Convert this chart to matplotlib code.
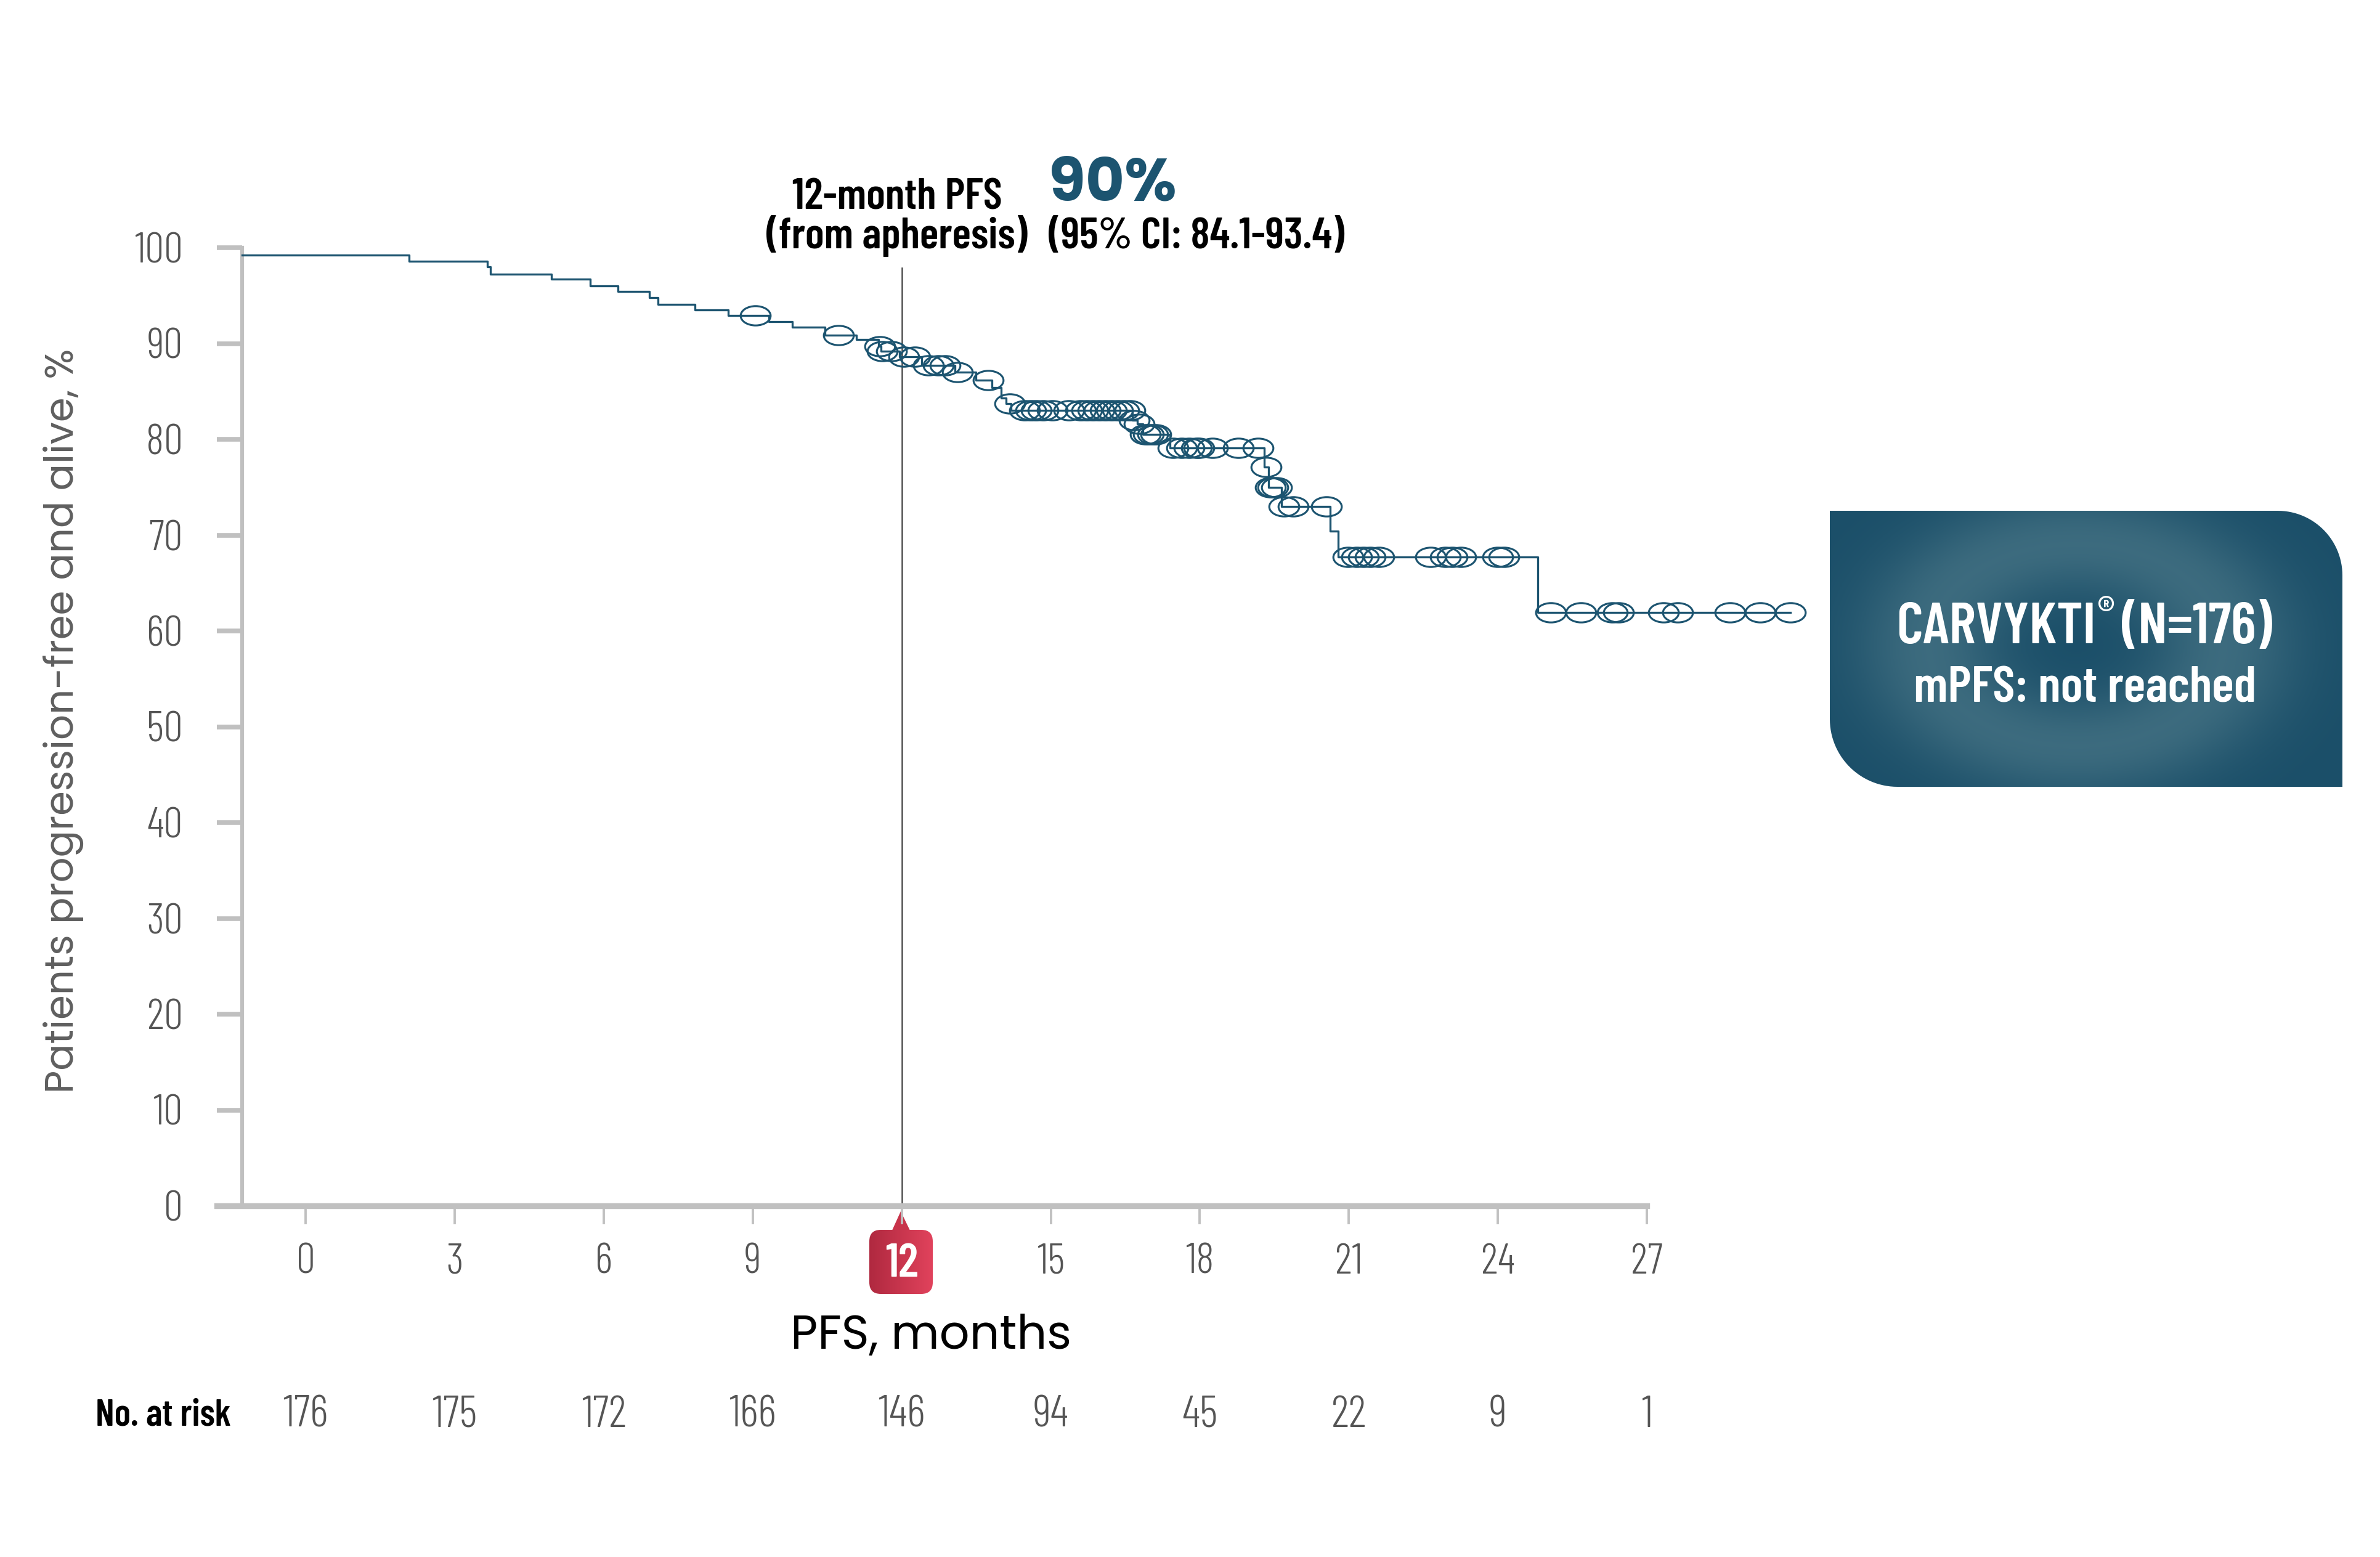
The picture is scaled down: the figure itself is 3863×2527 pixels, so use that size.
import matplotlib
matplotlib.use('Agg')
import matplotlib.pyplot as plt
import numpy as np
from matplotlib import font_manager
from matplotlib.patches import FancyBboxPatch, PathPatch, Polygon
from matplotlib.path import Path
from matplotlib.transforms import Affine2D, blended_transform_factory

# ---- data ----
step_times = np.array([-1.28, 2.08, 3.65, 3.72, 4.94, 5.73, 6.28, 6.92, 7.09, 7.84,
                       8.5, 9.32, 9.79, 10.45, 11.08, 11.53, 11.58, 11.95, 12.4, 13.07,
                       13.49, 13.82, 14.0, 14.1, 14.2, 16.64, 16.74, 16.85, 17.4, 19.3,
                       19.38, 19.64, 20.63, 20.78, 24.8])
step_levels = np.array([99.2, 98.6, 98.0, 97.25, 96.7, 96.0, 95.45, 94.8, 94.1, 93.5,
                        92.9, 92.3, 91.7, 90.9, 90.4, 89.7, 89.2, 88.6, 87.7, 87.0,
                        86.2, 85.4, 84.3, 83.7, 83.0, 82.0, 81.6, 80.5, 79.1, 77.1,
                        75.0, 73.0, 70.4, 67.7, 61.9])
end_time = 29.89

censor_times = np.array([9.05, 10.73, 11.56, 11.61, 11.79, 12.04, 12.27, 12.54, 12.74, 12.87,
                         13.12, 13.74, 14.17, 14.47, 14.6, 14.71, 14.85, 15.03, 15.37, 15.6,
                         15.72, 15.85, 15.97, 16.1, 16.22, 16.35, 16.47, 16.59, 16.68, 16.78,
                         16.9, 16.97, 17.05, 17.12, 17.46, 17.64, 17.78, 17.93, 17.98, 18.26,
                         18.78, 19.17, 19.34, 19.42, 19.47, 19.54, 19.7, 19.88, 20.55, 20.99,
                         21.16, 21.29, 21.43, 21.6, 22.64, 22.95, 23.08, 23.25, 24.0, 24.12,
                         25.06, 25.67, 26.3, 26.43, 27.33, 27.62, 28.67, 29.28, 29.89])

x_ticks = [0, 3, 6, 9, 12, 15, 18, 21, 24, 27]
y_ticks = [0, 10, 20, 30, 40, 50, 60, 70, 80, 90, 100]
at_risk = [176, 175, 172, 166, 146, 94, 45, 22, 9, 1]

# ---- fonts ----
ttf = font_manager.fontManager.ttflist


def pick(*names):
    # first family that has static regular and bold faces
    for n in names:
        ws = {int(f.weight) for f in ttf if f.name == n and '[' not in f.fname
              and 'Variable' not in f.fname and str(f.weight).isdigit()}
        if 400 in ws and 700 in ws:
            return n
    return 'DejaVu Sans'


NARROW = pick('Barlow Condensed', 'Roboto Condensed', 'Liberation Sans Narrow', 'Liberation Sans')
GEO = pick('Montserrat', 'Poppins', 'Lato', 'Open Sans')

TEAL = '#1c5470'
AXGRAY = '#c0c0c0'
LABGRAY = '#555555'

W, H, DPI = 3863, 2527, 250
fig = plt.figure(figsize=(W / DPI, H / DPI), dpi=DPI)


def fx(px):
    return px / W


def fy(py):
    return 1 - py / H


ax = fig.add_axes([fx(352), fy(1957), fx(2673) - fx(352), fy(402) - fy(1957)])
ax.set_xlim(-1.79, 27)
ax.set_ylim(0, 100)

# KM curve + censor marks
ax.step(np.append(step_times, end_time), np.append(step_levels, step_levels[-1]),
        where='post', color=TEAL, lw=0.95, clip_on=False, zorder=3)
idx = np.searchsorted(step_times, censor_times, side='right') - 1
ellipse = Path.unit_circle().transformed(Affine2D().scale(1.55, 1.0))
ax.plot(censor_times, step_levels[idx], ls='none', marker=ellipse, ms=14,
        mfc='none', mec=TEAL, mew=0.9, clip_on=False, zorder=4)

# 12-month reference line
ax.axvline(12, ymin=0, ymax=0.979, color='#555555', lw=0.75, zorder=2)

# spines and ticks
for s in ['top', 'right']:
    ax.spines[s].set_visible(False)
ax.spines['left'].set_position(('data', -1.28))
ax.spines['left'].set_bounds(0, 100)
ax.spines['left'].set_color(AXGRAY)
ax.spines['left'].set_linewidth(1.8)
ax.spines['bottom'].set_color(AXGRAY)
ax.spines['bottom'].set_linewidth(2.7)

ax.set_yticks(y_ticks)
ax.set_yticklabels([str(v) for v in y_ticks])
ax.tick_params(axis='y', direction='out', length=11.8, width=2.2, color=AXGRAY,
               pad=16, labelsize=20, labelcolor=LABGRAY)
ax.set_xticks(x_ticks)
ax.set_xticklabels([str(v) for v in x_ticks])
ax.tick_params(axis='x', direction='out', length=8.5, width=1.1, color=AXGRAY,
               pad=9, labelsize=20, labelcolor=LABGRAY)
for lab in ax.get_xticklabels() + ax.get_yticklabels():
    lab.set_fontfamily(NARROW)
    lab.set_fontweight(300)
lab12 = ax.get_xticklabels()[x_ticks.index(12)]
lab12.set_color('white')
lab12.set_fontweight(600)
lab12.set_fontsize(22)

# red badge behind the "12" label
bax = fig.add_axes([fx(1411), fy(2100), fx(1514) - fx(1411), fy(1996) - fy(2100)])
bax.set_zorder(-1)
bax.axis('off')
grad = np.linspace(0, 1, 64)[None, :]
c0, c1 = np.array([0.69, 0.16, 0.25]), np.array([0.88, 0.26, 0.36])
img = c0[None, None, :] + (c1 - c0)[None, None, :] * grad[..., None]
im = bax.imshow(img, extent=[0, 1, 0, 1], aspect='auto')
badge = FancyBboxPatch((0, 0), 1, 1, boxstyle='round,pad=0,rounding_size=0.18',
                       transform=bax.transAxes, facecolor='none', edgecolor='none')
bax.add_patch(badge)
im.set_clip_path(badge)
bax.set_xlim(0, 1)
bax.set_ylim(0, 1)
fig.add_artist(Polygon([(fx(1462), fy(1966)), (fx(1447), fy(1999)), (fx(1478), fy(1999))],
                       closed=True, transform=fig.transFigure, facecolor='#c8334a',
                       edgecolor='none', zorder=-1))

# axis titles
fig.text(fx(103), fy(1170), 'Patients progression-free and alive, %', rotation=90,
         ha='center', va='center', fontsize=18.5, color='#5f5f5f', family=GEO)
fig.text(fx(1511), fy(2170), 'PFS, months', ha='center', va='center',
         fontsize=22, color='black', family=GEO)

# number at risk row
risk_tr = blended_transform_factory(ax.transData, fig.transFigure)
for t, n in zip(x_ticks, at_risk):
    ax.text(t, fy(2297), str(n), transform=risk_tr, ha='center', va='center',
            fontsize=21, fontweight=300, color=LABGRAY, family=NARROW, clip_on=False)
fig.text(fx(375), fy(2297), 'No. at risk', ha='right', va='center', fontsize=17.5,
         fontweight=600, color='black', family=NARROW)

# 12-month PFS annotation
fig.text(fx(1456), fy(340), '12-month PFS', ha='center', va='baseline', fontsize=20.5,
         fontweight=600, family=NARROW)
fig.text(fx(1456), fy(403), '(from apheresis)', ha='center', va='baseline', fontsize=20.5,
         fontweight=600, family=NARROW)
fig.text(fx(1702), fy(325), '90%', ha='left', va='baseline', fontsize=28,
         fontweight='bold', color=TEAL, family=GEO)
fig.text(fx(1702), fy(403), '(95% CI: 84.1-93.4)', ha='left', va='baseline', fontsize=20.5,
         fontweight=600, family=NARROW)

# legend box with radial glow
bw, bh = 832, 448
lax = fig.add_axes([fx(2970), fy(1277), fx(3802) - fx(2970), fy(829) - fy(1277)])
lax.axis('off')
gx, gy = np.meshgrid(np.linspace(0, bw, 300), np.linspace(0, bh, 160))
r = np.sqrt(((gx - 400) / 240) ** 2 + ((gy - 230) / 165) ** 2)
glow = np.exp(-((r - 1.0) / 0.5) ** 2) * 0.85
base = np.array([27, 79, 105]) / 255
light = np.array([66, 112, 130]) / 255
bimg = base[None, None, :] + (light - base)[None, None, :] * glow[..., None]
bim = lax.imshow(bimg, extent=[0, bw, 0, bh], origin='lower', aspect='auto')
r1, r2 = 105, 110
a1 = np.linspace(np.pi / 2, 0, 30)
a2 = np.linspace(1.5 * np.pi, np.pi, 30)
verts = [(0, bh), (bw - r1, bh)]
verts += list(zip(bw - r1 + r1 * np.cos(a1), bh - r1 + r1 * np.sin(a1)))
verts += [(bw, 0), (r2, 0)]
verts += list(zip(r2 + r2 * np.cos(a2), r2 + r2 * np.sin(a2)))
verts += [(0, bh)]
box_path = Path(verts, closed=True)
box_patch = PathPatch(box_path, facecolor='none', edgecolor='none', transform=lax.transData)
lax.add_patch(box_patch)
bim.set_clip_path(box_patch)
lax.set_xlim(0, bw)
lax.set_ylim(0, bh)

# "CARVYKTI® (N=176)" built from three pieces so the ® sits small and raised
box_kw = dict(va='baseline', fontweight=600, color='white', family=NARROW)
p1 = fig.text(0, fy(1044), 'CARVYKTI', ha='left', fontsize=27, **box_kw)
p2 = fig.text(0, fy(1012), '®', ha='left', fontsize=18, **box_kw)
p3 = fig.text(0, fy(1044), '(N=176)', ha='left', fontsize=27, **box_kw)
rend = fig.canvas.get_renderer()
w1, w2, w3 = (p.get_window_extent(rend).width for p in (p1, p2, p3))
gap1, gap2 = 4, 12
x0 = 3383 - (w1 + gap1 + w2 + gap2 + w3) / 2
p1.set_x(fx(x0))
p2.set_x(fx(x0 + w1 + gap1))
p3.set_x(fx(x0 + w1 + gap1 + w2 + gap2))
fig.text(fx(3384), fy(1139), 'mPFS: not reached', ha='center', va='baseline',
         fontsize=24, fontweight=600, color='white', family=NARROW)

fig.savefig('out.png', dpi=DPI, facecolor='white')
